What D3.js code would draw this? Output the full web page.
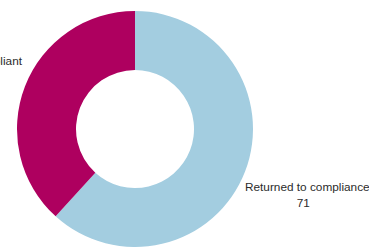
<!DOCTYPE html>
<html>
<head>
<meta charset="utf-8">
<script src="https://cdn.jsdelivr.net/npm/d3@7"></script>
<style>
  html, body { margin: 0; padding: 0; background: #fff; }
  svg { display: block; }
  text { font-family: "Liberation Sans", Arial, sans-serif; font-size: 11.8px; fill: #2b2b2b; }
</style>
</head>
<body>
<svg id="chart" width="369" height="251"></svg>
<script>
// data
const categories = ["Returned to compliance", "Non-compliant"];
const values = [71, 44];
const colors = ["#a3cde0", "#ae005f"];

const svg = d3.select("#chart");
const cx = 135, cy = 129;
const radius = 118;

const pie = d3.pie().sort(null).value((d) => d.value);
const arcs = pie(categories.map((c, i) => ({ name: c, value: values[i], color: colors[i] })));

const arc = d3.arc().innerRadius(radius * 0.5).outerRadius(radius);

const group = svg.append("g").attr("transform", `translate(${cx}, ${cy})`);

group
  .selectAll("path")
  .data(arcs)
  .join("path")
  .attr("fill", (d) => d.data.color)
  .attr("d", arc);

// labels outside the ring
const labelRadius = 175;
const labels = group
  .selectAll("g.label")
  .data(arcs)
  .join("g")
  .attr("class", "label")
  .attr("transform", (d) => {
    const mid = (d.startAngle + d.endAngle) / 2;
    const right = Math.sin(mid) > 0;
    const x = right ? radius - 8 : -(radius - 5);
    const y = -Math.cos(mid) * labelRadius + 3;
    return `translate(${x}, ${y})`;
  });

labels.each(function (d) {
  const mid = (d.startAngle + d.endAngle) / 2;
  const right = Math.sin(mid) > 0;
  const g = d3.select(this);
  const t = g.append("text").attr("text-anchor", right ? "start" : "end").attr("y", -8).attr("dy", "0.35em").text(d.data.name);
  const w = t.node().getComputedTextLength();
  g.append("text")
    .attr("text-anchor", "middle")
    .attr("x", right ? w / 2 - 4 : -w / 2)
    .attr("y", 8)
    .attr("dy", "0.35em")
    .text(d.data.value);
});
</script>
</body>
</html>
